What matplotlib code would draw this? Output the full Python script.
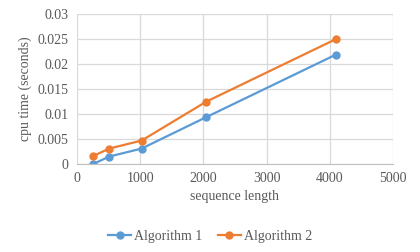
import matplotlib
matplotlib.use("Agg")
import matplotlib.pyplot as plt

# --- Data ---
seq_len = [256, 512, 1024, 2048, 4096]
algo1 = [0.0, 0.0015, 0.0031, 0.0094, 0.0219]
algo2 = [0.0016, 0.0031, 0.0047, 0.0125, 0.0250]
x_ticks = [0, 1000, 2000, 3000, 4000, 5000]
y_ticks = [0, 0.005, 0.01, 0.015, 0.02, 0.025, 0.03]
y_labels = ["0", "0.005", "0.01", "0.015", "0.02", "0.025", "0.03"]

plt.rcParams['font.family'] = ['Liberation Serif', 'DejaVu Serif']

fig = plt.figure(figsize=(4.2, 2.52), dpi=100)
ax = fig.add_axes([0.183, 0.349, 0.753, 0.595])

ax.plot(seq_len, algo1, color="#5B9BD5", marker="o", markersize=5, linewidth=1.6, label="Algorithm 1")
ax.plot(seq_len, algo2, color="#ED7D31", marker="o", markersize=5, linewidth=1.6, label="Algorithm 2")

ax.set_xlim(0, 5000)
ax.set_ylim(0, 0.03)
ax.set_xticks(x_ticks)
ax.set_yticks(y_ticks)
ax.set_yticklabels(y_labels)
ax.grid(True, color="#D9D9D9", linewidth=0.9)
ax.set_axisbelow(True)
for side in ["top", "right", "left"]:
    ax.spines[side].set_visible(False)
ax.spines["bottom"].set_color("#BFBFBF")
ax.tick_params(length=0, labelsize=10, colors="#595959", pad=6)

ax.set_xlabel("sequence length", fontsize=10, color="#595959", labelpad=3)
ax.set_ylabel("cpu time (seconds)", fontsize=10, color="#595959", labelpad=4)

leg = fig.legend(loc="center", bbox_to_anchor=(0.5, 0.063), ncol=2, frameon=False,
                 fontsize=10, handlelength=1.65, columnspacing=1.15, handletextpad=0.2)
for t in leg.get_texts():
    t.set_color("#595959")

fig.savefig("out.png", dpi=100)
